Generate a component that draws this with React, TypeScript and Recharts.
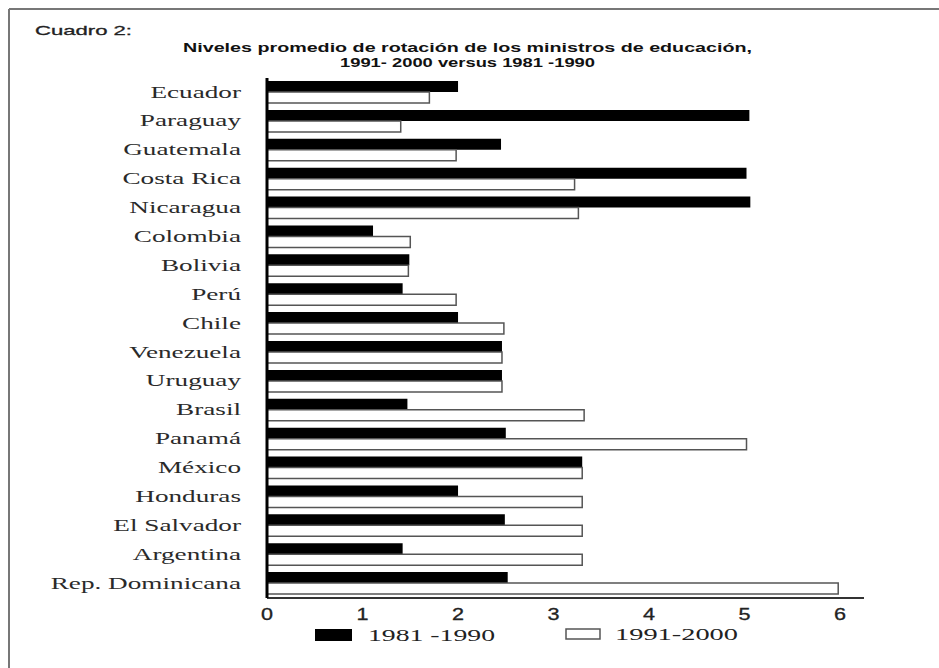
import React from 'react';
import { BarChart, Bar, XAxis, YAxis } from 'recharts';

const countries = ['Ecuador', 'Paraguay', 'Guatemala', 'Costa Rica', 'Nicaragua', 'Colombia', 'Bolivia', 'Perú', 'Chile', 'Venezuela', 'Uruguay', 'Brasil', 'Panamá', 'México', 'Honduras', 'El Salvador', 'Argentina', 'Rep. Dominicana'];
const v1981 = [2.0, 5.05, 2.45, 5.02, 5.06, 1.11, 1.49, 1.42, 2.0, 2.46, 2.46, 1.47, 2.5, 3.3, 2.0, 2.49, 1.42, 2.52];
const v1991 = [1.7, 1.4, 1.98, 3.22, 3.26, 1.5, 1.48, 1.98, 2.48, 2.46, 2.46, 3.32, 5.02, 3.3, 3.3, 3.3, 3.3, 5.98];
const xTicks = [0, 1, 2, 3, 4, 5, 6];
const seriesNames = ['1981 -1990', '1991-2000'];
const titleLines = ['Niveles promedio de rotación de los ministros de educación,', '1991- 2000 versus 1981 -1990'];
const cuadro = 'Cuadro 2:';

const data = countries.map((c, i) => ({ name: c, a: v1981[i], b: v1991[i] }));

const YTick = (props: any) => {
  const { x, y, payload } = props;
  return (
    <g transform={`translate(${x},${y})`}>
      <text transform="scale(1.6,1)" textAnchor="end" dy="0.3em" fontFamily="Liberation Serif" fontSize={17} fill="#2a2a2a">
        {payload.value}
      </text>
    </g>
  );
};

const XTick = (props: any) => {
  const { x, y, payload } = props;
  return (
    <g transform={`translate(${x},${y})`}>
      <text transform="scale(1.35,1)" textAnchor="middle" dy="0.71em" fontFamily="Liberation Sans" fontSize={16} fill="#222" stroke="#222" strokeWidth={0.3}>
        {payload.value}
      </text>
    </g>
  );
};

export default function App() {
  return (
    <div style={{ position: 'absolute', left: 0, top: 0, width: 939, height: 668, background: '#fff' }}>
      <BarChart
        width={939}
        height={668}
        data={data}
        layout="vertical"
        margin={{ top: 78, right: 75, bottom: 0, left: 0 }}
        barCategoryGap={3}
        barGap={0}
      >
        <XAxis
          type="number"
          domain={[0, 6.25]}
          ticks={xTicks}
          allowDataOverflow
          axisLine={{ stroke: '#333', strokeWidth: 2 }}
          tickLine={false}
          tickSize={0}
          tickMargin={11}
          tick={<XTick />}
          height={70}
        />
        <YAxis
          type="category"
          dataKey="name"
          width={267}
          axisLine={{ stroke: '#000', strokeWidth: 3 }}
          tickLine={false}
          tickSize={0}
          tickMargin={26}
          tick={<YTick />}
          interval={0}
        />
        <Bar dataKey="a" fill="#000" isAnimationActive={false} />
        <Bar dataKey="b" fill="#fff" stroke="#555" strokeWidth={1.5} isAnimationActive={false} />
      </BarChart>
      <svg width={939} height={668} style={{ position: 'absolute', left: 0, top: 0, pointerEvents: 'none' }}>
        <line x1={9} y1={9} x2={939} y2={9} stroke="#777" strokeWidth={2} />
        <line x1={9} y1={9} x2={9} y2={668} stroke="#777" strokeWidth={2} />
        <text x={35} y={35} fontFamily="Liberation Sans" fontSize={13} fill="#222" stroke="#222" strokeWidth={0.3} textLength={97} lengthAdjust="spacingAndGlyphs">{cuadro}</text>
        <text x={183} y={52} fontFamily="Liberation Sans" fontWeight="bold" fontSize={13} fill="#111" textLength={569} lengthAdjust="spacingAndGlyphs">{titleLines[0]}</text>
        <text x={340} y={67} fontFamily="Liberation Sans" fontWeight="bold" fontSize={13} fill="#111" textLength={255} lengthAdjust="spacingAndGlyphs">{titleLines[1]}</text>
        <rect x={315} y={629} width={37} height={12} fill="#000" />
        <text x={368} y={641} fontFamily="Liberation Serif" fontSize={16} fill="#222" textLength={127} lengthAdjust="spacingAndGlyphs">{seriesNames[0]}</text>
        <rect x={566} y={629} width={34} height={10} fill="#fff" stroke="#555" strokeWidth={1.5} />
        <text x={615} y={640} fontFamily="Liberation Serif" fontSize={16} fill="#222" textLength={123} lengthAdjust="spacingAndGlyphs">{seriesNames[1]}</text>
      </svg>
    </div>
  );
}
